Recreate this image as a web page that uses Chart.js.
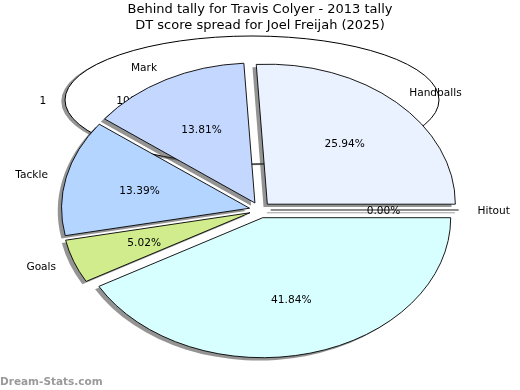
<!DOCTYPE html>
<html>
<head>
<meta charset="utf-8">
<script src="https://cdn.jsdelivr.net/npm/chart.js@4.4.1/dist/chart.umd.min.js"></script>
<style>
  html, body { margin: 0; padding: 0; background: #fff; }
  #wrap { position: relative; width: 520px; height: 390px; }
  #wrap canvas { position: absolute; left: 0; top: 0; }
</style>
</head>
<body>
<div id="wrap">
  <canvas id="back" width="520" height="390"></canvas>
  <canvas id="front" width="520" height="390"></canvas>
</div>
<script>
// data
const titleLines = ['Behind tally for Travis Colyer - 2013 tally', 'DT score spread for Joel Freijah (2025)'];

const backLabels = ['1'];
const backValues = [1];
const backColors = ['#ffffff'];

// clockwise from 3 o'clock
const frontLabels = ['', 'Goals', 'Tackle', 'Mark', 'Handballs', 'Hitout'];
const frontValues = [41.84, 5.02, 13.39, 13.81, 25.94, 0];
const frontColors = ['#d8ffff', '#d0ec8c', '#b3d5ff', '#c4d8ff', '#ebf2ff', '#ffffff'];

Chart.defaults.font.family = '"DejaVu Sans", sans-serif';

// squash the round pie into an ellipse, explode slices, add shadow
const ellipsePie = {
  id: 'ellipsePie',
  beforeDatasetsDraw(chart, args, o) {
    const ctx = chart.ctx, a = chart.chartArea;
    const cx = (a.left + a.right) / 2, cy = (a.top + a.bottom) / 2;
    chart.getDatasetMeta(0).data.forEach(el => {
      const mid = (el.startAngle + el.endAngle) / 2;
      el.x = cx + Math.cos(mid) * o.explode;
      el.y = cy + Math.sin(mid) * o.explode;
    });
    ctx.save();
    ctx.translate(cx, cy); ctx.scale(1, o.ratio); ctx.translate(-cx, -cy);
    ctx.shadowColor = o.shadowColor;
    ctx.shadowOffsetX = o.shadowX;
    ctx.shadowOffsetY = o.shadowY;
    ctx.shadowBlur = 0;
    // keep line width even after the vertical squash; only fills cast shadow
    const stroke = CanvasRenderingContext2D.prototype.stroke;
    ctx.stroke = function () {
      this.save();
      this.setTransform(1, 0, 0, 1, 0, 0);
      if (!this._lineShadow) this.shadowColor = 'rgba(0,0,0,0)';
      stroke.call(this);
      this.restore();
    };
  },
  afterDatasetsDraw(chart, args, o) {
    const ctx = chart.ctx;
    chart.getDatasetMeta(0).data.forEach(el => {
      const r = el.outerRadius;
      ctx.lineWidth = o.lineWidth;
      ctx.strokeStyle = '#000';
      if (el.circumference === 0) {
        ctx._lineShadow = true;
        ctx.beginPath();
        ctx.moveTo(el.x, el.y);
        ctx.lineTo(el.x + Math.cos(el.startAngle) * r, el.y + Math.sin(el.startAngle) * r);
        ctx.stroke();
        ctx._lineShadow = false;
      }
      if (o.outline) {
        ctx.beginPath();
        ctx.arc(el.x, el.y, r, 0, Math.PI * 2);
        ctx.stroke();
      }
    });
    delete ctx.stroke;
    ctx.restore();
  },
  afterDraw(chart, args, o) {
    const ctx = chart.ctx, a = chart.chartArea;
    const cy = (a.top + a.bottom) / 2;
    const ds = chart.data.datasets[0];
    const total = ds.data.reduce((s, v) => s + v, 0);
    ctx.save();
    ctx.font = '10.6px "DejaVu Sans"';
    ctx.fillStyle = '#000';
    ctx.textBaseline = 'middle';
    chart.getDatasetMeta(0).data.forEach((el, i) => {
      const mid = (el.startAngle + el.endAngle) / 2;
      const r = el.outerRadius;
      const lx = el.x + 1.1 * r * Math.cos(mid);
      const ly = cy + (el.y + 1.1 * r * Math.sin(mid) - cy) * o.ratio + 1.3;
      ctx.textAlign = Math.cos(mid) > 0 ? 'left' : 'right';
      ctx.fillText(chart.data.labels[i], lx, ly);
      const px = el.x + 0.6 * r * Math.cos(mid);
      const py = cy + (el.y + 0.6 * r * Math.sin(mid) - cy) * o.ratio + 1.3;
      ctx.textAlign = 'center';
      ctx.fillText((ds.data[i] / total * 100).toFixed(2) + '%', px, py);
    });
    if (o.watermark) {
      ctx.font = 'bold 10.5px "DejaVu Sans"';
      ctx.fillStyle = '#9a9a9a';
      ctx.textAlign = 'left';
      ctx.textBaseline = 'alphabetic';
      ctx.fillText(o.watermark, 0, 385);
    }
    ctx.restore();
  }
};

new Chart(document.getElementById('back'), {
  type: 'pie',
  data: {
    labels: backLabels,
    datasets: [{ data: backValues, backgroundColor: backColors, borderWidth: 0, radius: 187 }]
  },
  options: {
    responsive: false,
    animation: false,
    events: [],
    rotation: 90,
    layout: { padding: { left: 0, right: 16, top: 0, bottom: 190 } },
    plugins: {
      legend: { display: false },
      tooltip: { enabled: false },
      ellipsePie: { ratio: 64 / 187, explode: 0, shadowColor: 'rgba(60,60,60,0.55)', shadowX: -3.7, shadowY: 1.3, lineWidth: 1, outline: true }
    }
  },
  plugins: [ellipsePie]
});

new Chart(document.getElementById('front'), {
  type: 'pie',
  data: {
    labels: frontLabels,
    datasets: [{ data: frontValues, backgroundColor: frontColors, borderColor: '#000', borderWidth: 0.9, radius: 188 }]
  },
  options: {
    responsive: false,
    animation: false,
    events: [],
    rotation: 90,
    layout: { padding: { left: 0, right: 0, top: 0, bottom: 4 } },
    plugins: {
      legend: { display: false },
      tooltip: { enabled: false },
      title: {
        display: true,
        text: titleLines,
        color: '#000',
        font: { size: 13, weight: 'normal', lineHeight: 1.23 },
        padding: { top: 2, bottom: 0 }
      },
      ellipsePie: { ratio: 140 / 188, explode: 10.7, shadowColor: 'rgba(60,60,60,0.55)', shadowX: -3.8, shadowY: 2.8, lineWidth: 0.9, outline: false, watermark: 'Dream-Stats.com' }
    }
  },
  plugins: [ellipsePie]
});
</script>
</body>
</html>
